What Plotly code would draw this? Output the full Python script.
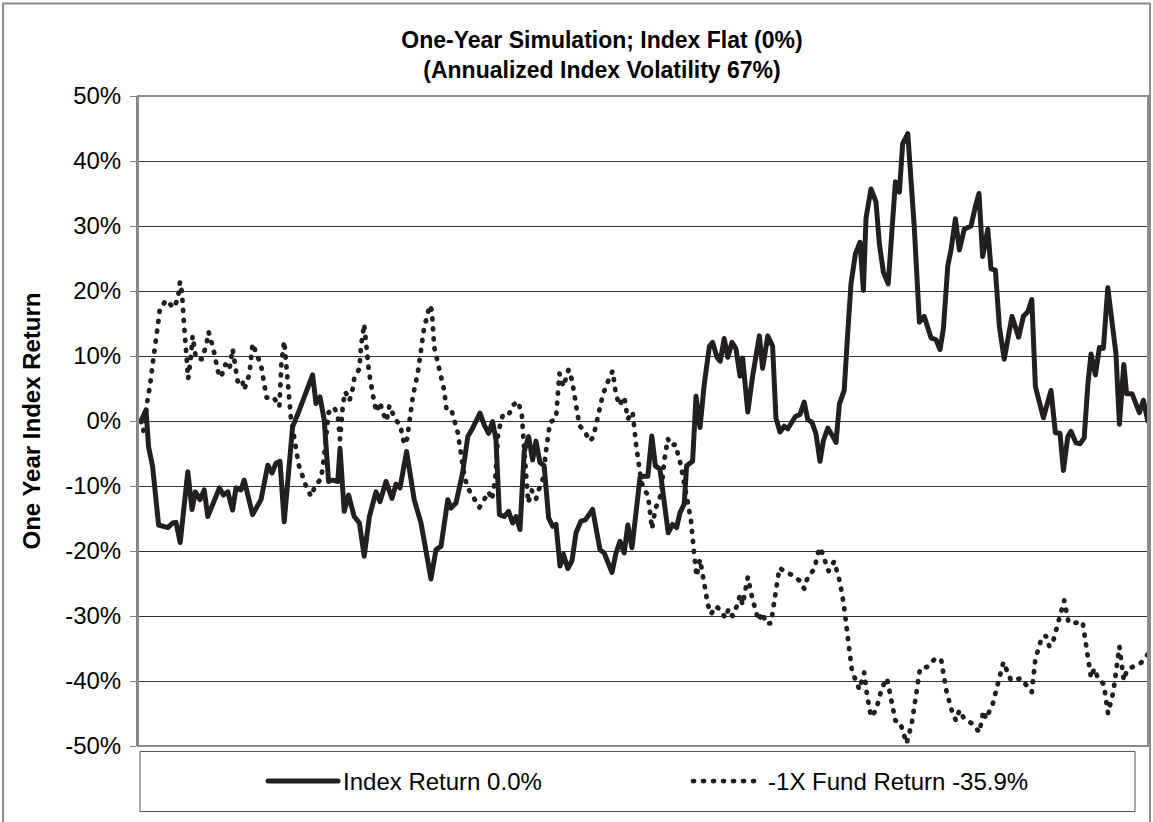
import plotly.graph_objects as go

# ---- data (x = trading day, y = return in %) ----
index_days = [0, 1.25, 1.9, 2.9, 4.4, 6.7, 7.9, 8.75, 9.8, 11.7, 12.75, 13.6, 14.75, 15.8, 16.7,
              18.1, 19.6, 20.6, 21.7, 22.9, 23.75, 25, 25.8, 27.9, 30, 31.7, 32.75, 33.75, 34.75,
              35.8, 37.9, 39.6, 42.9, 43.75, 44.75, 45.8, 46.9, 47.9, 49.2, 49.75, 50.8, 51.9,
              53.3, 54.6, 55.8, 57.1, 58.75, 59.75, 61.25, 62.75, 63.75, 64.75, 66.4, 68.3, 70,
              72.5, 73.75, 75, 76.7, 77.5, 78.75, 80.4, 81.7, 82.9, 84.75, 85.8, 86.9, 87.9,
              88.75, 89.6, 90.8, 91.9, 92.9, 93.75, 94.75, 95.8, 96.9, 97.9, 98.75, 99.75,
              100.8, 101.9, 102.9, 103.75, 104.75, 105.6, 106.7, 107.75, 108.75, 110, 111.1,
              112.9, 113.75, 114.75, 115.8, 117.75, 118.75, 119.75, 120.8, 121.7, 122.75,
              123.75, 124.75, 125.6, 126.7, 127.7, 128.6, 129.75, 130.8, 131.8, 132.9, 133.9,
              134.75, 135.8, 136.4, 137.9, 138.75, 139.75, 140.8, 142.1, 142.9, 144, 144.8,
              145.8, 146.7, 147.75, 148.75, 149.75, 150.4, 151.7, 152.9, 154.6, 155.4, 156.7,
              157.9, 158.75, 159.75, 160.8, 161.7, 163.6, 164.75, 165.8, 166.7, 167.75, 168.75,
              169.75, 170.6, 171.7, 172.9, 173.75, 174.6, 175.8, 176.7, 177.5, 178.6, 179.75,
              180.6, 181.25, 182.5, 183.75, 184.6, 185.6, 186.8, 187.9, 188.6, 189.6, 190.4,
              191.7, 193.3, 194.6, 195.8, 197.5, 198.75, 199.75, 200.6, 201.7, 202.5, 203.6,
              204.6, 205.8, 207.5, 208.75, 209.5, 210.4, 211.7, 212.5, 213.6, 214.6, 215.8,
              217.75, 219.4, 220.6, 221.7, 222.7, 223.6, 225.6, 227.5, 228.6, 229.75, 230.6,
              231.7, 232.5, 233.75, 234.75, 235.8, 236.7, 237.5, 238.6, 239.6, 240.6, 241.7,
              243.75, 244.6, 245.7, 246.4, 247.75, 248.6, 249.6, 250.6, 251.7]
index_ret = [0, 1.7, -4, -7, -16, -16.4, -15.7, -15.6, -18.7, -7.8, -13.6, -10.9, -12.1, -10.6, -14.7,
             -12.6, -10.3, -11.4, -10.9, -13.7, -10.3, -10.6, -9.1, -14.4, -12.1, -6.8, -8, -6.5, -6.2,
             -15.5, -0.9, 1.7, 7.1, 2.7, 3.7, 0.2, -9.3, -9.1, -9.3, -4.2, -13.9, -11.4,
             -14.7, -15.7, -20.8, -14.7, -10.9, -12.4, -9.3, -11.9, -9.7, -10.3, -4.7, -12.1, -15.7,
             -24.3, -19.8, -19.3, -12.1, -13.4, -12.6, -8, -2.4, -1.1, 1.2, -0.6, -1.9, -0.1,
             -2.9, -14.4, -14.7, -13.9, -15.7, -14.7, -16.7, -4.7, -2.4, -6, -3.1, -6.4,
             -6.9, -14.9, -16.2, -15.9, -22.3, -20.5, -22.7, -21.5, -17.2, -15.4, -15.2,
             -13.6, -16.2, -19.8, -20.3, -23.3, -20.3, -18.5, -20.3, -16, -19.5,
             -14.1, -8.7, -8.5, -8.5, -2.3, -6.9, -7.4, -12.6, -17.2, -15.9, -16.4,
             -14.1, -12.8, -6.9, -6.2, 3.8, -1, 5.6, 11.5, 12.1, 9.8, 9.2,
             12.7, 9.8, 12.1, 11.1, 6.9, 9.7, 1.4, 6.9, 13.1, 8.1, 13.1,
             11.5, 0.4, -1.7, -0.8, -1.2, 0.7, 1, 2.9, 0.2, -0.2, -2,
             -6.2, -3, -1.1, -2.3, -3.3, 2.6, 4.7, 13.7, 21.1, 25.7, 27.5,
             20.1, 31.2, 35.7, 33.7, 27.2, 22.9, 21.1, 31.5, 36.8, 35.2, 42.6,
             44.2, 30, 15.2, 16.1, 12.8, 12.5, 11, 14.2, 23.9, 26.3, 31.1,
             26.3, 29.5, 30, 33.4, 35, 25.3, 29.5, 23.4, 23.2, 14.5, 9.5,
             16.1, 12.9, 16.1, 16.8, 18.7, 5.3, 0.5, 4.7, -1.8, -1.9, -7.6,
             -2.4, -1.6, -3.4, -3.5, -2.6, 5.5, 10.3, 7.1, 11.3, 11.2, 20.5,
             10.3, -0.5, 8.7, 4.2, 4.2, 2.9, 1.3, 3.2, 0]

fund_days = [0, 0.6, 1.7, 2.25, 2.9, 3.75, 4.4, 4.75, 6.4, 8.1, 9.2, 9.75, 10.25, 10.6, 11.1, 11.8,
             12.5, 12.9, 13.75, 15.25, 16.4, 16.9, 18.1, 19.2, 20, 21.1, 22.1, 22.9, 23.75, 24.2,
             25.25, 25.8, 27.1, 27.9, 28.9, 30, 31.4, 33.1, 34.6, 35.1, 35.8, 36.4, 36.9, 37.5,
             38.1, 39.4, 41.25, 42.5, 43.6, 45, 45.8, 46.4, 46.9, 48.3, 49.2, 49.75, 50.5, 51.1,
             52.1, 52.9, 53.3, 54.6, 55, 55.8, 56.25, 56.9, 57.3, 57.75, 58.3, 58.9, 59.75, 60.4,
             61.4, 62.1, 63.6, 64.8, 65.8, 66.5, 66.9, 67.3, 68, 69.2, 70, 70.8, 72.2, 72.7, 73.3,
             74.6, 75.8, 76.4, 77.7, 79.2, 80.1, 80.9, 81.8, 83.3, 84.6, 85.7, 86.9, 87.75, 88.6,
             89.3, 90.6, 92.1, 93.1, 94.3, 95.2, 95.6, 96.4, 96.8, 97.7, 98.75, 99.6, 100.6,
             101.1, 101.7, 102.25, 103.75, 104.2, 104.6, 105.6, 106.25, 106.9, 107.75, 108.6,
             109.6, 110.8, 112.25, 113.1, 114.2, 115.4, 116.4, 117.9, 118.75, 119.6, 120.8,
             121.7, 122.9, 123.75, 125, 125.6, 126.75, 127.75, 128.6, 130, 130.8, 131.7, 132.5,
             133.6, 135, 136.4, 137.5, 138.3, 138.9, 139.75, 140.8, 141.7, 142.5, 143.75, 145,
             146.1, 146.9, 147.9, 149, 149.75, 150.4, 151.25, 151.7, 152.9, 154.4, 155.4, 156.25,
             157.5, 158.3, 159.6, 161.1, 162.75, 164.75, 165.8, 166.7, 168.3, 169.6, 170.25,
             171.9, 173.3, 174.75, 175.7, 176.7, 177.75, 179.6, 180.8, 181.5, 182.5, 183.75,
             185.2, 186.5, 187.5, 188.6, 189.75, 191.4, 192.7, 194.25, 194.75, 196.7, 198.3,
             200, 201.4, 202.9, 203.75, 204.6, 205.8, 207.9, 209.6, 210.6, 211.25, 212.9, 214.25,
             215.6, 217.5, 220, 222.7, 223.6, 225.25, 226.25, 227.1, 227.9, 229.25, 230.4, 230.8,
             231.9, 233.1, 235.4, 236.5, 237.5, 238.3, 239.2, 240.7, 241.75, 243.1, 244, 244.6,
             245.7, 246.5, 248.6, 250, 251.7]
fund_ret = [0, -1.5, 3.6, 5.4, 8.7, 12.1, 15.6, 17.4, 18.6, 17.4, 18.7, 21.4, 19.7, 16.2, 11, 6.5,
            10, 13.1, 9.6, 9.5, 11.9, 13.7, 11.1, 7.7, 6.7, 8.7, 7.9, 11.1, 7.7, 6,
            6.4, 4.8, 7.2, 11.9, 10.3, 8.6, 3.6, 3.7, 2.2, 8.9, 12.3, 7.2, 3.6, 0.3,
            -1.8, -6.7, -10, -11.6, -9.9, -8.9, -5.4, -0.5, 1.3, 2.1, 0.8, -2.8, 2.7, 4.5,
            3.1, 4.9, 6.5, 8.1, 11.5, 14.9, 11.5, 8.1, 6.4, 4.6, 2.9, 1.4, 2.9, 1.4,
            0, 2.4, 0.2, -0.6, -3.6, -2.8, -1.2, 0.5, 3.9, 7.4, 10.9, 14.4, 17.8, 17, 11.4,
            8.2, 4.7, 1.6, 1.5, -1.8, -5.3, -8.7, -10.4, -11.8, -13.3, -12.2, -10.9, -12.1, -8.7,
            -1.7, 1.2, 1.2, 2.5, 3, 1, -2.6, -8.5, -12.6, -10.7, -12, -10.3, -8.7,
            -5.3, -1.8, -0.2, 0.4, 3.8, 7.3, 5.3, 6.9, 7.9, 6.3, 2.8,
            -0.7, -1.5, -3.1, -2.4, 0.9, 3.9, 5.6, 7.7, 4.1, 2.4, 3.7,
            0.3, 1.4, -3.6, -9, -10.4, -11.4, -16.6, -13.5, -11.3, -6.2, -2.7, -3.8,
            -3.6, -6.9, -11.9, -15.3, -20.5, -23.9, -21.3, -24.8, -28.2, -29.7, -28.5, -29.2,
            -30.3, -28.9, -30, -28.4, -26.8, -28.3, -25.8, -24, -27.5, -30.7, -29.5, -31.2,
            -31.1, -27.6, -22.6, -23.2, -23.7, -24.6, -25.8, -24, -22.8, -19.5, -20.2,
            -23.1, -21.6, -24.8, -28.2, -33.3, -38.5, -41.3, -38.7, -42.1, -45.5, -44.5,
            -41.1, -39.6, -42.7, -46.1, -46.3, -49.6, -46.5, -39.6, -38.1, -37.8, -36.7,
            -36.6, -41.7, -45, -46.1, -44.5, -45.8, -46.6, -47.9, -44.6, -45.8, -43.6, -40.5,
            -37.1, -39.9, -39.6, -41.7, -36.6, -33.2, -33.1, -34.7, -34.2, -31.1, -28.4, -27.6,
            -31, -31.1, -30.9, -36, -39.5, -38.1, -39.5, -40.5, -45, -41.6, -38.1, -34.7,
            -39.9, -38.3, -37.6, -37.2, -35.9]

series_names = ["Index Return 0.0%", "-1X Fund Return -35.9%"]
title_lines = ["One-Year Simulation; Index Flat (0%)", "(Annualized Index Volatility 67%)"]
y_title = "One Year Index Return"
y_tick_values = [-50, -40, -30, -20, -10, 0, 10, 20, 30, 40, 50]
y_tick_labels = ["-50%", "-40%", "-30%", "-20%", "-10%", "0%", "10%", "20%", "30%", "40%", "50%"]

INK = "#231f20"
FONT = "Liberation Sans, Arial, sans-serif"

fig = go.Figure()
fig.add_trace(go.Scatter(x=index_days, y=index_ret, mode="lines", name=series_names[0],
                         line=dict(color=INK, width=5, dash="solid")))
fig.add_trace(go.Scatter(x=fund_days, y=fund_ret, mode="lines", name=series_names[1],
                         line=dict(color=INK, width=4.8, dash="1px,9px")))

fig.update_layout(
    width=1153, height=822,
    margin=dict(l=138, r=5, t=96, b=76, autoexpand=False),
    paper_bgcolor="white", plot_bgcolor="white",
    font=dict(family=FONT, color="#000000", size=24),
    title=dict(text=title_lines[0] + "<br>" + title_lines[1], xref="paper", x=0.4594,
               xanchor="center", yref="container", y=1 - 48 / 822, yanchor="middle",
               font=dict(family=FONT, size=23, color="#000000", weight="bold")),
    showlegend=True,
    legend=dict(orientation="h", x=0.1238, xanchor="left", y=-0.0546, yanchor="middle",
                bgcolor="rgba(0,0,0,0)", borderwidth=0, itemwidth=70,
                entrywidth=340, entrywidthmode="pixels",
                font=dict(family=FONT, size=24, color="#000000")),
    xaxis=dict(range=[-0.75, 251.75], showgrid=False, zeroline=False, showticklabels=False,
               ticks="", showline=False, automargin=False),
    yaxis=dict(range=[-50, 50], tickmode="array", tickvals=y_tick_values, ticktext=y_tick_labels,
               showgrid=True, gridcolor="#333333", automargin=False,
               gridwidth=1, zeroline=False, showline=True, linecolor="#808080", linewidth=2,
               ticks="outside", ticklen=6, tickcolor="#808080", tickwidth=1, ticklabelstandoff=4,
               tickfont=dict(family=FONT, size=24, color="#000000"),
               title=dict(text=y_title, standoff=18,
                          font=dict(family=FONT, size=24, color="#000000", weight="bold"))),
    shapes=[
        # plot-area frame
        dict(type="rect", xref="paper", yref="paper", x0=0, x1=1, y0=0, y1=1,
             line=dict(color="#8c8c8c", width=2), layer="above"),
        # legend box
        dict(type="rect", xref="paper", yref="paper", x0=0.00198, x1=0.9871, y0=-0.1008, y1=-0.00846,
             line=dict(color="#555555", width=1)),
        # chart frame
        dict(type="rect", xref="paper", yref="paper", x0=-0.1337, x1=1.0020, y0=-0.2, y1=1.1423,
             line=dict(color="#8c8c8c", width=2)),
    ],
)

post = (
    "document.body.style.margin='0';"
    "var gd=document.querySelector('.plotly-graph-div');"
    "function roundDots(){document.querySelectorAll('path.js-line').forEach(function(p){"
    "p.style.strokeLinecap='round';p.style.strokeLinejoin='round';});}"
    "roundDots();"
    "if(gd&&gd.on){gd.on('plotly_afterplot',roundDots);}"
)

fig.write_html("out.html", config={"displayModeBar": False}, post_script=post)
